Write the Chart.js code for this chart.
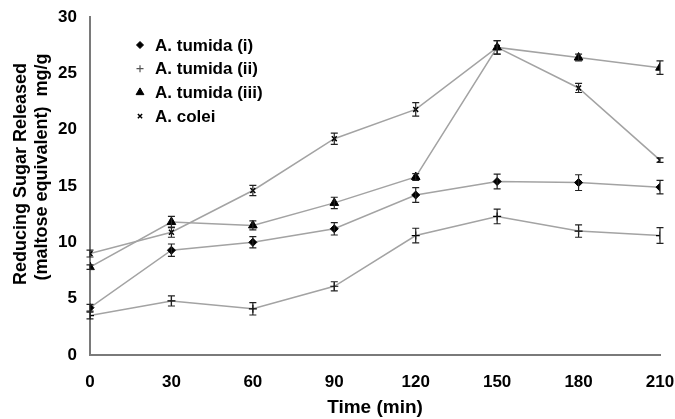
<!DOCTYPE html>
<html>
<head>
<meta charset="utf-8">
<script src="https://cdn.jsdelivr.net/npm/chart.js@4.4.1/dist/chart.umd.min.js"></script>
<style>
  html, body { margin: 0; padding: 0; background: #fff; }
  #wrap { width: 675px; height: 419px; position: relative; }
</style>
</head>
<body>
<div id="wrap"><canvas id="c" width="675" height="419"></canvas></div>
<script>
const times = [0, 30, 60, 90, 120, 150, 180, 210];
const xTicks = [0, 30, 60, 90, 120, 150, 180, 210];
const yTicks = [0, 5, 10, 15, 20, 25, 30];

const seriesLabels = ['A. tumida (i)', 'A. tumida (ii)', 'A. tumida (iii)', 'A. colei'];
const tumidaI   = [4.2, 9.3, 10.0, 11.2, 14.2, 15.4, 15.3, 14.9];
const tumidaII  = [3.5, 4.8, 4.1, 6.1, 10.6, 12.3, 11.0, 10.6];
const tumidaIII = [7.8, 11.8, 11.5, 13.5, 15.8, 27.3, 26.4, 25.5];
const colei     = [9.0, 10.9, 14.6, 19.2, 21.8, 27.3, 23.7, 17.3];

const errI   = [0.3, 0.55, 0.5, 0.55, 0.65, 0.65, 0.7, 0.6];
const errII  = [0.3, 0.45, 0.55, 0.4, 0.65, 0.65, 0.55, 0.7];
const errIII = [0.2, 0.5, 0.4, 0.5, 0.3, 0.6, 0.3, 0.6];
const errC   = [0.3, 0.45, 0.45, 0.5, 0.6, 0.6, 0.4, 0.2];

const yTitle = ['Reducing Sugar Released', '(maltose equivalent)  mg/g'];
const xTitle = 'Time (min)';

const values = [tumidaI, tumidaII, tumidaIII, colei];
const errors = [errI, errII, errIII, errC];
const styles = [
  { pointStyle: 'rectRot', radius: 4, borderWidth: 1 },
  { pointStyle: 'cross', radius: 4, borderWidth: 1.2 },
  { pointStyle: 'triangle', radius: 5, borderWidth: 1 },
  { pointStyle: 'crossRot', radius: 3.5, borderWidth: 1.5 }
];

const FONT = "'Liberation Sans', Arial, sans-serif";

const datasets = values.map((vals, k) => ({
  label: seriesLabels[k],
  data: times.map((t, i) => ({ x: t, y: vals[i] })),
  errs: errors[k],
  borderColor: '#a3a3a3',
  borderWidth: 1.5,
  pointStyle: styles[k].pointStyle,
  pointRadius: styles[k].radius,
  pointBorderWidth: styles[k].borderWidth,
  pointBackgroundColor: '#000',
  pointBorderColor: '#000',
  fill: false,
  tension: 0
}));

const errorBars = {
  id: 'errorBars',
  afterDatasetsDraw(chart) {
    const ctx = chart.ctx;
    const ys = chart.scales.y;
    ctx.save();
    ctx.strokeStyle = '#222';
    ctx.lineWidth = 1.2;
    chart.data.datasets.forEach((ds, k) => {
      const meta = chart.getDatasetMeta(k);
      meta.data.forEach((pt, i) => {
        const v = ds.data[i].y, e = ds.errs[i];
        const x = pt.x;
        const y1 = ys.getPixelForValue(v + e);
        const y2 = ys.getPixelForValue(v - e);
        ctx.beginPath();
        ctx.moveTo(x, y1); ctx.lineTo(x, y2);
        ctx.moveTo(x - 3.5, y1); ctx.lineTo(x + 3.5, y1);
        ctx.moveTo(x - 3.5, y2); ctx.lineTo(x + 3.5, y2);
        ctx.stroke();
      });
    });
    ctx.restore();
  }
};

const customText = {
  id: 'customText',
  afterDraw(chart) {
    const ctx = chart.ctx;
    ctx.save();
    ctx.fillStyle = '#000';
    ctx.font = 'bold 17px ' + FONT;
    ctx.textBaseline = 'middle';
    ctx.textAlign = 'left';
    chart.data.datasets.forEach((ds, k) => {
      const y = 45 + k * 23.7;
      ctx.save();
      ctx.fillStyle = '#000';
      ctx.strokeStyle = k === 1 ? '#555' : '#000';
      ctx.lineWidth = styles[k].borderWidth;
      Chart.helpers.drawPoint(ctx, {
        pointStyle: styles[k].pointStyle,
        radius: styles[k].radius - 0.5,
        rotation: 0,
        borderWidth: styles[k].borderWidth
      }, 140, y);
      ctx.restore();
      ctx.fillText(ds.label, 155, y + 1);
    });
    ctx.font = 'bold 18px ' + FONT;
    ctx.textAlign = 'center';
    ctx.textBaseline = 'alphabetic';
    const lines = [{ x: 26, y: 174 }, { x: 47, y: 167 }];
    yTitle.forEach((t, i) => {
      ctx.save();
      ctx.translate(lines[i].x, lines[i].y);
      ctx.rotate(-Math.PI / 2);
      ctx.fillText(t, 0, 0);
      ctx.restore();
    });
    ctx.restore();
  }
};

new Chart(document.getElementById('c'), {
  type: 'line',
  data: { datasets },
  plugins: [errorBars, customText],
  options: {
    responsive: false,
    animation: false,
    devicePixelRatio: 1,
    layout: { padding: { top: 17, right: 15, left: 0, bottom: 0 } },
    plugins: { legend: { display: false }, tooltip: { enabled: false } },
    scales: {
      x: {
        type: 'linear',
        min: 0, max: 210,
        afterFit(scale) { scale.height = 64; scale.paddingLeft = 0; scale.paddingRight = 0; },
        afterBuildTicks(scale) { scale.ticks = xTicks.map(v => ({ value: v })); },
        grid: { display: false, drawTicks: false },
        border: { display: true, color: '#7a7a7a', width: 2 },
        ticks: { color: '#000', padding: 17, font: { family: FONT, size: 17, weight: 'bold' }, maxRotation: 0 },
        title: { display: true, text: xTitle, color: '#000', padding: { top: 0, bottom: 0 }, font: { family: FONT, size: 19, weight: 'bold' } }
      },
      y: {
        min: 0, max: 30,
        afterFit(scale) { scale.width = 90; scale.paddingTop = 0; scale.paddingBottom = 0; },
        afterBuildTicks(scale) { scale.ticks = yTicks.map(v => ({ value: v })); },
        grid: { display: false, drawTicks: false },
        border: { display: true, color: '#7a7a7a', width: 2 },
        ticks: { color: '#000', padding: 13, font: { family: FONT, size: 17, weight: 'bold' } }
      }
    }
  }
});
</script>
</body>
</html>
